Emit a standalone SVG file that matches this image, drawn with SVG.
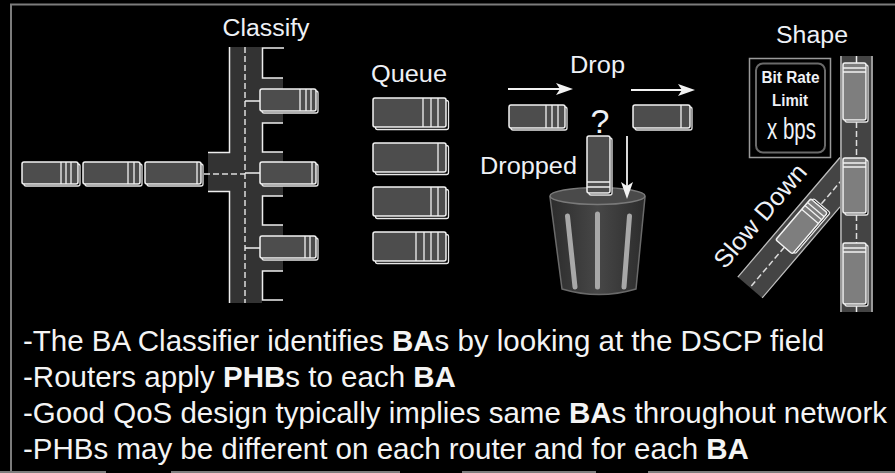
<svg xmlns="http://www.w3.org/2000/svg" width="895" height="473" viewBox="0 0 895 473">
  <defs>
    <style>
      .lbl{font-family:"Liberation Sans",Arial,sans-serif;font-size:23px;fill:#eef1f6}
      .txt{font-family:"Liberation Sans",Arial,sans-serif;font-size:29.5px;fill:#f4f4f4}
      .b{font-weight:bold}
      .pb{fill:#000;stroke:#e6e6e6;stroke-width:1.3}
      .pk{fill:#4d4d4d;stroke:#f2f2f2;stroke-width:1.5}
      .pl{fill:#7e7e7e;stroke:#f2f2f2;stroke-width:1.5}
      .st{stroke:#f2f2f2;stroke-width:1.3;fill:none}
      .wl{stroke:#eeeeee;stroke-width:1.5;fill:none}
      .dash{stroke:#dddddd;stroke-width:1.5;stroke-dasharray:6 3;fill:none}
      .frame{stroke:#7c7c7c;stroke-width:2;fill:none}
      .arrow{fill:#f2f2f2}
    </style>
    <linearGradient id="canBody" x1="0" y1="0" x2="1" y2="0">
      <stop offset="0" stop-color="#2c2c2c"/>
      <stop offset="0.5" stop-color="#474747"/>
      <stop offset="1" stop-color="#2c2c2c"/>
    </linearGradient>
  </defs>

  <rect x="0" y="0" width="895" height="473" fill="#000"/>

  <!-- outer frame -->
  <g id="frame">
    <path class="frame" d="M11,473 V4.5 H895"/>
    <path class="frame" d="M0,472 H106 M171,472 H400 M462,472 H596 M648,472 H895"/>
  </g>

  <!-- classifier road -->
  <g id="classify">
    <text class="lbl" x="222.5" y="36" textLength="87" lengthAdjust="spacingAndGlyphs">Classify</text>
    <rect x="229" y="47" width="54" height="256" fill="#333"/>
    <rect x="208" y="152" width="22" height="40" fill="#333"/>
    <rect x="262" y="46" width="25" height="32" fill="#000"/>
    <rect x="262" y="123" width="25" height="29" fill="#000"/>
    <rect x="262" y="196" width="25" height="29" fill="#000"/>
    <rect x="262" y="271" width="25" height="33" fill="#000"/>
    <path class="wl" d="M284,48 H262.5 V78 H283 M283,123 H262.5 V152 H283 M283,196 H262.5 V225 H283 M283,271 H262.5 V300 H283"/>
    <path class="wl" d="M229.5,47 V152.5 H208 M208,191.5 H229.5 V303"/>
    <path class="dash" d="M245,47 V303 M204,174 H245"/>
    <path class="wl" d="M245,101 H260 M245,173 H260 M245,248 H260"/>
  </g>

  <!-- incoming packets -->
  <g id="inbound">
    <rect class="pb" x="24" y="164" width="56" height="22" rx="2"/>
    <rect class="pk" x="22" y="162" width="56" height="22" rx="2"/>
    <path class="st" d="M61,162 V184 M66,162 V184 M71,162 V184"/>
    <rect class="pb" x="85" y="164" width="57" height="22" rx="2"/>
    <rect class="pk" x="83" y="162" width="57" height="22" rx="2"/>
    <path class="st" d="M128,162 V184 M134,162 V184"/>
    <rect class="pb" x="147" y="164" width="56" height="22" rx="2"/>
    <rect class="pk" x="145" y="162" width="56" height="22" rx="2"/>
    <path class="st" d="M197,162 V184"/>
  </g>

  <!-- classified packets -->
  <g id="classified">
    <rect class="pb" x="262" y="91" width="56" height="22" rx="2"/>
    <rect class="pk" x="260" y="89" width="56" height="22" rx="2"/>
    <path class="st" d="M300,89 V111 M306,89 V111 M311,89 V111"/>
    <rect class="pb" x="262" y="164" width="56" height="22" rx="2"/>
    <rect class="pk" x="260" y="162" width="56" height="22" rx="2"/>
    <path class="st" d="M312,162 V184"/>
    <rect class="pb" x="262" y="238" width="56" height="22" rx="2"/>
    <rect class="pk" x="260" y="236" width="56" height="22" rx="2"/>
    <path class="st" d="M305,236 V258 M310,236 V258"/>
  </g>

  <!-- queues -->
  <g id="queue">
    <text class="lbl" x="371" y="82" textLength="76" lengthAdjust="spacingAndGlyphs">Queue</text>
    <rect class="pb" x="375.5" y="100.5" width="73" height="29" rx="2"/>
    <rect class="pk" x="373" y="98" width="73" height="29" rx="2"/>
    <path class="st" d="M423,98 V127 M431,98 V127 M438,98 V127"/>
    <rect class="pb" x="375.5" y="145.5" width="73" height="29" rx="2"/>
    <rect class="pk" x="373" y="143" width="73" height="29" rx="2"/>
    <path class="st" d="M438,143 V172"/>
    <rect class="pb" x="375.5" y="189.5" width="73" height="29" rx="2"/>
    <rect class="pk" x="373" y="187" width="73" height="29" rx="2"/>
    <path class="st" d="M431,187 V216 M438,187 V216"/>
    <rect class="pb" x="375.5" y="234.5" width="73" height="29" rx="2"/>
    <rect class="pk" x="373" y="232" width="73" height="29" rx="2"/>
    <path class="st" d="M416,232 V261 M424,232 V261 M431,232 V261 M438,232 V261"/>
  </g>

  <!-- drop stage -->
  <g id="drop">
    <text class="lbl" x="570" y="73" textLength="55" lengthAdjust="spacingAndGlyphs">Drop</text>
    <text class="lbl" x="480" y="174" textLength="97" lengthAdjust="spacingAndGlyphs">Dropped</text>
    <text class="lbl" x="600" y="133" text-anchor="middle" style="font-size:34px">?</text>
    <rect class="pb" x="511" y="107" width="56" height="23" rx="2"/>
    <rect class="pk" x="509" y="105" width="56" height="23" rx="2"/>
    <path class="st" d="M546,105 V128 M552,105 V128 M558,105 V128"/>
    <rect class="pb" x="635" y="107" width="57" height="23" rx="2"/>
    <rect class="pk" x="633" y="105" width="57" height="23" rx="2"/>
    <path class="st" d="M681,105 V128"/>
  </g>

  <!-- trash can -->
  <g id="trash">
    <path d="M550,197 L562,289 Q599,300 636,289 L645,197 Z" fill="url(#canBody)" stroke="#6a6a6a" stroke-width="1.5"/>
    <ellipse cx="597.5" cy="196" rx="47.5" ry="8.5" fill="#4a4a4a" stroke="#7a7a7a" stroke-width="1.5"/>
    <path d="M567.5,216 L575,287 M597.5,214 V287 M629.5,216 L624,287" stroke="#a8a8a8" stroke-width="5" stroke-linecap="round" fill="none"/>
  </g>

  <!-- dropped packet -->
  <g id="dropped-packet">
    <rect class="pb" x="589" y="138" width="23" height="57" rx="2"/>
    <rect class="pk" x="587" y="136" width="23" height="57" rx="2"/>
    <path class="st" d="M587,182 H610 M587,187 H610"/>
  </g>

  <!-- connectors -->
  <g id="connectors">
    <line x1="508" y1="89" x2="561" y2="89" stroke="#f2f2f2" stroke-width="1.8"/>
    <polygon class="arrow" points="573,89 556,83 560,89 556,95"/>
    <line x1="631" y1="90" x2="683" y2="90" stroke="#f2f2f2" stroke-width="1.8"/>
    <polygon class="arrow" points="695,90 678,84 682,90 678,96"/>
    <line x1="627" y1="136" x2="627" y2="188" stroke="#f2f2f2" stroke-width="1.8"/>
    <polygon class="arrow" points="627,199 621,182 627,186 633,182"/>
  </g>

  <!-- shaper -->
  <g id="shape">
    <text class="lbl" x="776" y="43" textLength="72" lengthAdjust="spacingAndGlyphs">Shape</text>
  </g>

  <g id="rate-sign">
    <rect x="749.5" y="58.5" width="81" height="99" fill="none" stroke="#9a9a9a" stroke-width="1.5"/>
    <rect x="756" y="63.5" width="69" height="89" rx="7" fill="#000" stroke="#6a6a6a" stroke-width="2"/>
    <text class="lbl b" x="761.5" y="82.5" textLength="58" lengthAdjust="spacingAndGlyphs" style="font-size:16px">Bit Rate</text>
    <text class="lbl b" x="772" y="106" textLength="36" lengthAdjust="spacingAndGlyphs" style="font-size:16px">Limit</text>
    <text class="lbl" x="767" y="139" textLength="49" lengthAdjust="spacingAndGlyphs" style="font-size:29px">x bps</text>
  </g>

  <!-- diagonal slow lane -->
  <g id="slow-lane">
    <polygon points="737.8,277.1 840,157.5 840,206.8 762.2,297.9" fill="#444"/>
    <path d="M737.8,277.1 L840,157.5 M762.2,297.9 L840,206.8" stroke="#bdbdbd" stroke-width="1.3" fill="none"/>
    <g transform="translate(750,287.5) rotate(-49.5)">
      <path class="dash" d="M2,0 H139"/>
      <rect class="pb" x="55" y="-9.5" width="54" height="22" rx="2"/>
      <rect class="pl" x="53" y="-11.5" width="54" height="22" rx="2"/>
      <path class="st" d="M93,-11.5 V10.5 M98,-11.5 V10.5 M102,-11.5 V10.5"/>
    </g>
    <text class="lbl" transform="translate(725,270) rotate(-49.5)" x="0" y="0" textLength="128" lengthAdjust="spacingAndGlyphs" style="font-size:25px">Slow Down</text>
  </g>

  <!-- main shaped lane -->
  <g id="fast-lane">
    <rect x="840" y="56" width="33" height="256" fill="#444"/>
    <path d="M841,56 V312 M872,56 V312" stroke="#c8c8c8" stroke-width="1.3" fill="none"/>
    <path class="dash" d="M856.5,122 V158 M856.5,215 V243"/>
    <path class="wl" d="M856.5,56 V63 M856.5,304 V312"/>
    <rect class="pb" x="845" y="65" width="23" height="57" rx="2"/>
    <rect class="pl" x="843" y="63" width="23" height="57" rx="2"/>
    <path class="st" d="M843,68 H866 M843,72 H866"/>
    <rect class="pb" x="845" y="160" width="23" height="55" rx="2"/>
    <rect class="pl" x="843" y="158" width="23" height="55" rx="2"/>
    <path class="st" d="M843,163 H866 M843,167 H866"/>
    <rect class="pb" x="845" y="245" width="23" height="61" rx="2"/>
    <rect class="pl" x="843" y="243" width="23" height="61" rx="2"/>
    <path class="st" d="M843,248 H866 M843,252 H866"/>
  </g>

  <!-- notes -->
  <g id="notes">
    <text class="txt" x="23" y="351">-The BA Classifier identifies <tspan class="b">BA</tspan>s by looking at the DSCP field</text>
    <text class="txt" x="23" y="387">-Routers apply <tspan class="b">PHB</tspan>s to each <tspan class="b">BA</tspan></text>
    <text class="txt" x="23" y="423">-Good QoS design typically implies same <tspan class="b">BA</tspan>s throughout network</text>
    <text class="txt" x="23" y="459">-PHBs may be different on each router and for each <tspan class="b">BA</tspan></text>
  </g>
</svg>
